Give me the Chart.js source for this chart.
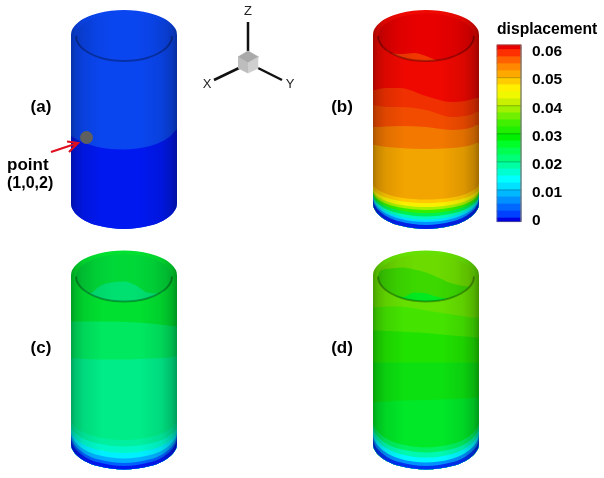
<!DOCTYPE html>
<html>
<head>
<meta charset="utf-8">
<script src="https://cdn.jsdelivr.net/npm/chart.js@4"></script>
<style>
  html, body { margin: 0; padding: 0; background: #fff; }
  canvas { display: block; }
</style>
</head>
<body>
<canvas id="myChart" width="604" height="478"></canvas>
<script>
// sample positions across the cylinder (picture units from its left edge)
const wallX = [0, 0.5, 2, 6, 14, 27, 53, 79, 92, 100, 104, 105.5, 106];
const innerX = [5, 5.5, 7, 10.5, 18, 30, 41, 53, 65, 76, 88, 95.5, 99, 100.5, 101];

// silhouette of the cylinder
const outerTop = [35, 31.6, 28.2, 23.5, 18, 13.2, 10, 13.2, 18, 23.5, 28.2, 31.6, 35];
const outerBottom = [203, 206.6, 210, 215, 220.7, 225.6, 229, 225.6, 220.7, 215, 210, 206.6, 203];
const innerTop = [36, 33, 29.6, 25.5, 20.7, 16.3, 14.2, 13.5, 14.2, 16.3, 20.7, 25.5, 29.6, 33, 36];
const innerBottom = [36, 39.5, 43, 47.6, 53, 58, 60.2, 61, 60.2, 58, 53, 47.6, 43, 39.5, 36];

// panel (a)
const aEdges = [
  [135, 136, 137, 139.5, 143, 147, 149.5, 146, 141, 135.5, 131, 130, 129]
];
const aColors = ['#0a46f0', '#0018f0'];

// panel (b)
const bEdges = [
  [90, 90, 90, 89, 88, 88, 96, 102, 101, 99, 98, 98, 98],
  [105, 105, 105.5, 106, 107, 107, 110, 117, 116, 114, 112, 112, 112],
  [127, 127, 127, 127, 126.5, 126, 127, 130, 129, 127, 125, 125, 125],
  [145, 145, 145, 146, 147, 148, 149, 148, 146.5, 144.5, 143, 143, 143],
  [183, 185.3, 187.5, 190.6, 194.2, 197.4, 199.5, 197.4, 194.2, 190.6, 187.5, 185.3, 183],
  [187, 189.2, 191.3, 194.4, 197.9, 200.9, 203, 200.9, 197.9, 194.4, 191.3, 189.2, 187],
  [189.5, 192, 194.2, 197.6, 201.4, 204.7, 207, 204.7, 201.4, 197.6, 194.2, 192, 189.5],
  [191.5, 194.1, 196.5, 200, 204.1, 207.6, 210, 207.6, 204.1, 200, 196.5, 194.1, 191.5],
  [193, 195.8, 198.4, 202.2, 206.6, 210.4, 213, 210.4, 206.6, 202.2, 198.4, 195.8, 193],
  [194.5, 197.6, 200.4, 204.6, 209.5, 213.6, 216.5, 213.6, 209.5, 204.6, 200.4, 197.6, 194.5],
  [195.5, 198.9, 202, 206.5, 211.8, 216.4, 219.5, 216.4, 211.8, 206.5, 202, 198.9, 195.5],
  [197, 200.5, 203.8, 208.5, 214, 218.8, 222, 218.8, 214, 208.5, 203.8, 200.5, 197],
  [198.5, 202.2, 205.7, 210.7, 216.5, 221.6, 225, 221.6, 216.5, 210.7, 205.7, 202.2, 198.5]
];
const bColors = ['#ee0800', '#f03000', '#f24c00', '#f27800', '#f2a400', '#ffc800', '#f8f000',
  '#a8f000', '#30f000', '#00f050', '#00f8c0', '#00e0ff', '#0090ff', '#0020e8'];
const bHollow = [
  [36, 33, 29.6, 25.5, 20.7, 16.3, 14.2, 13.5, 14.2, 16.3, 20.7, 25.5, 29.6, 33, 36],
  [36, 39.5, 43, 47.6, 53, 54, 53, 56, 60.2, 58, 53, 47.6, 43, 39.5, 36]
];
const bHollowColors = ['#e80000', '#f03800'];

// panel (c)
const cEdges = [
  [81, 81, 81, 81, 81, 81, 81.5, 83, 84.5, 85.5, 86, 86, 86],
  [118, 118, 118, 118, 118.5, 119, 119, 118, 117.5, 117, 116, 116, 116],
  [178, 181, 183.8, 187.9, 192.6, 196.7, 199.5, 196.7, 192.6, 187.9, 183.8, 181, 178],
  [184, 187, 189.9, 194.1, 199, 203.1, 206, 203.1, 199, 194.1, 189.9, 187, 184],
  [188, 191.4, 194.6, 199.3, 204.7, 209.3, 212.5, 209.3, 204.7, 199.3, 194.6, 191.4, 188],
  [191, 194.8, 198.3, 203.4, 209.4, 214.5, 218, 214.5, 209.4, 203.4, 198.3, 194.8, 191],
  [194, 198, 201.7, 207.1, 213.4, 218.8, 222.5, 218.8, 213.4, 207.1, 201.7, 198, 194],
  [197, 201, 204.7, 210.1, 216.4, 221.8, 225.5, 221.8, 216.4, 210.1, 204.7, 201, 197]
];
const cColors = ['#00e030', '#00e860', '#00ec88', '#00f0a0', '#00f8c8', '#00f0ff', '#00b0ff', '#0060ff', '#0018f0'];
const cHollow = [
  [36, 33, 29.6, 25.5, 20.7, 16.3, 14.2, 13.5, 14.2, 16.3, 20.7, 25.5, 29.6, 33, 36],
  [36, 39.5, 43, 47.6, 53, 45, 42, 41, 45, 52, 53, 47.6, 43, 39.5, 36]
];
const cHollowColors = ['#00d838', '#00e070'];

// panel (d)
const dEdges = [
  [67, 67, 67, 66.5, 66, 66, 70, 74, 76, 77, 77, 77, 77],
  [90, 90, 90, 90, 90.5, 91, 92.5, 95, 96, 96.5, 97, 97, 97],
  [122, 122, 122, 122, 122, 122, 122, 122, 122, 122, 122, 122, 122],
  [162, 162, 162, 161.5, 161, 160, 159.5, 158.5, 158, 157.5, 157, 157, 157],
  [180, 183.8, 187.3, 192.4, 198.4, 203.5, 207, 203.5, 198.4, 192.4, 187.3, 183.8, 180],
  [185, 188.8, 192.3, 197.4, 203.4, 208.5, 212, 208.5, 203.4, 197.4, 192.3, 188.8, 185],
  [189, 192.9, 196.6, 201.9, 208, 213.4, 217, 213.4, 208, 201.9, 196.6, 192.9, 189],
  [193, 197, 200.8, 206.3, 212.7, 218.2, 222, 218.2, 212.7, 206.3, 200.8, 197, 193],
  [197, 201, 204.7, 210.1, 216.4, 221.8, 225.5, 221.8, 216.4, 210.1, 204.7, 201, 197]
];
const dColors = ['#66e000', '#44e400', '#20e200', '#0ce010', '#00e828', '#00f060', '#00f8b0', '#00f8ff', '#0090ff', '#0030f0'];
const dHollow = [
  [36, 33, 29.6, 25.5, 20.7, 16.3, 14.2, 13.5, 14.2, 16.3, 20.7, 25.5, 29.6, 33, 36],
  [33, 33, 31, 29, 28, 27, 29, 32, 37, 42, 45, 46, 43, 39.5, 36],
  [36, 39.5, 43, 47.6, 53, 56.5, 52, 53, 56.5, 58, 53, 47.6, 43, 39.5, 36]
];
const dHollowColors = ['#6cdc00', '#3cd800', '#00e820'];

// colour bar
const barEdges = [0.0617, 0.06, 0.0575, 0.055, 0.0525, 0.05, 0.0475, 0.045, 0.0425, 0.04, 0.0375, 0.035, 0.0325,
  0.03, 0.0275, 0.025, 0.0225, 0.02, 0.0175, 0.015, 0.0125, 0.01, 0.0075, 0.005, 0.0025, 0, -0.0013];
const barColors = ['#e80000', '#ff3000', '#ff6000', '#ff8800', '#ffa800', '#ffcc00', '#fff000', '#f0f800',
  '#c8f000', '#a0f000', '#70f000', '#40f000', '#20f000', '#00f000', '#00ff28', '#00ff50', '#00ff78', '#00ffa0',
  '#00ffd0', '#00ffff', '#00e0ff', '#00b8ff', '#0090ff', '#0068ff', '#0040ff', '#0000e0'];
const barTicks = [0.06, 0.05, 0.04, 0.03, 0.02, 0.01, 0];
const barTickLabels = ['0.06', '0.05', '0.04', '0.03', '0.02', '0.01', '0'];

// axis triad
const triadZ = [[248, 22], [248, 51]];
const triadX = [[214, 80], [239, 68]];
const triadY = [[258, 68], [282, 80]];
const cubeX = [238, 248, 258.5];
const cubeTopUpper = [57, 51, 57];
const cubeTopLower = [57, 63, 57];
const cubeFrontX = [238, 248];
const cubeLeftUpper = [57, 63];
const cubeLeftLower = [68, 73];
const cubeRightX = [248, 258.5];
const cubeRightUpper = [63, 57];
const cubeRightLower = [73, 68];

// marker for the point (1,0,2) and its arrow
const pointMark = [[86.5, 137.5]];
const arrowLine = [[51, 152], [78, 143]];
const arrowHead = [[67, 141.5], [78, 143], [69, 152]];

const texts = [
  { t: '(a)', x: 41, y: 107, font: 'bold 17px "Liberation Sans"' },
  { t: '(b)', x: 342, y: 107, font: 'bold 17px "Liberation Sans"' },
  { t: '(c)', x: 41, y: 348, font: 'bold 17px "Liberation Sans"' },
  { t: '(d)', x: 342, y: 348, font: 'bold 17px "Liberation Sans"' },
  { t: 'point', x: 7, y: 165, align: 'left', font: 'bold 17px "Liberation Sans"' },
  { t: '(1,0,2)', x: 7, y: 184, align: 'left', font: 'bold 16px "Liberation Sans"' },
  { t: 'displacement', x: 497, y: 30, align: 'left', font: 'bold 15.7px "Liberation Sans"' },
  { t: 'Z', x: 248, y: 11, font: '13px "Liberation Sans"', color: '#222' },
  { t: 'X', x: 207, y: 84, font: '13px "Liberation Sans"', color: '#222' },
  { t: 'Y', x: 290, y: 84, font: '13px "Liberation Sans"', color: '#222' }
];

const edgeShade = [[0, 0.3], [0.04, 0.18], [0.12, 0.08], [0.3, 0], [0.65, 0], [0.85, 0.08], [0.95, 0.2], [1, 0.34]];
const hollowShade = [[0, 0.22], [0.06, 0.14], [0.2, 0.05], [0.4, 0], [0.6, 0], [0.8, 0.05], [0.94, 0.14], [1, 0.22]];

const datasets = [];

function toPoints(xs, ys, dx, dy) {
    return xs.map((x, i) => ({ x: x + dx, y: ys[i] + dy }));
}

function addLine(points, extra) {
    datasets.push(Object.assign({
        data: points,
        pointRadius: 0,
        borderWidth: 0,
        fill: false,
        tension: 0
    }, extra));
    return datasets.length - 1;
}

function shadeFill(x0, width, stops) {
    return (ctx) => {
        const xScale = ctx.chart.scales.x;
        const left = xScale ? xScale.getPixelForValue(x0) : NaN;
        const right = xScale ? xScale.getPixelForValue(x0 + width) : NaN;
        // the scale has no size yet on the very first resolve
        if (!isFinite(left) || !isFinite(right)) {
            return 'rgba(0,0,0,0)';
        }
        const g = ctx.chart.ctx.createLinearGradient(left, 0, right, 0);
        stops.forEach(s => g.addColorStop(s[0], `rgba(0,0,0,${s[1]})`));
        return g;
    };
}

const smooth = { cubicInterpolationMode: 'monotone' };

function addCylinder(dx, dy, edges, colors, hollow, hollowColors) {
    const base = addLine(toPoints(wallX, outerBottom, dx, dy), smooth);
    const curves = [outerTop].concat(edges);
    curves.forEach((c, i) => {
        addLine(toPoints(wallX, c, dx, dy), Object.assign({ fill: base, backgroundColor: colors[i] }, smooth));
    });
    addLine(toPoints(wallX, outerTop, dx, dy), Object.assign({ fill: base, backgroundColor: shadeFill(dx, 106, edgeShade) }, smooth));

    const innerBase = addLine(toPoints(innerX, innerBottom, dx, dy), smooth);
    hollow.forEach((c, i) => {
        addLine(toPoints(innerX, c, dx, dy), Object.assign({ fill: innerBase, backgroundColor: hollowColors[i] }, smooth));
    });
    addLine(toPoints(innerX, innerTop, dx, dy), Object.assign({ fill: innerBase, backgroundColor: shadeFill(dx + 5, 96, hollowShade) }, smooth));
    addLine(toPoints(innerX, innerBottom, dx, dy), Object.assign({ borderColor: 'rgba(0,0,0,0.3)', borderWidth: 2 }, smooth));
}

addCylinder(71, 0, aEdges, aColors, [innerTop], ['#0a46f0']);
addCylinder(373, 0, bEdges, bColors, bHollow, bHollowColors);
addCylinder(71, 240.5, cEdges, cColors, cHollow, cHollowColors);
addCylinder(373, 240.5, dEdges, dColors, dHollow, dHollowColors);

// triad
function addFace(xs, upper, lower, color) {
    const low = addLine(toPoints(xs, lower, 0, 0), { borderColor: color, borderWidth: 0.8 });
    addLine(toPoints(xs, upper, 0, 0), { fill: low, backgroundColor: color, borderColor: color, borderWidth: 0.8 });
}
[triadZ, triadX, triadY].forEach(seg => {
    addLine(seg.map(p => ({ x: p[0], y: p[1] })), { borderColor: '#111', borderWidth: 2.5 });
});
addFace(cubeX, cubeTopUpper, cubeTopLower, '#a9a9a9');
addFace(cubeFrontX, cubeLeftUpper, cubeLeftLower, '#bdbdbd');
addFace(cubeRightX, cubeRightUpper, cubeRightLower, '#cfcfcf');

// marker and arrow
addLine(pointMark.map(p => ({ x: p[0], y: p[1] })), { pointRadius: 6.5, pointBackgroundColor: '#5f5f5f', pointBorderWidth: 0, showLine: false });
addLine(arrowLine.map(p => ({ x: p[0], y: p[1] })), { borderColor: '#e01020', borderWidth: 2.2 });
addLine(arrowHead.map(p => ({ x: p[0], y: p[1] })), { borderColor: '#e01020', borderWidth: 2.2 });

// colour bar bars and its major lines
datasets.push({
    type: 'bar',
    xAxisID: 'x',
    yAxisID: 'yBar',
    data: barColors.map((c, i) => ({ x: 509, y: [barEdges[i + 1], barEdges[i]] })),
    backgroundColor: barColors,
    borderWidth: 0,
    barThickness: 24,
    grouped: false
});
barTicks.slice(1, 6).forEach(v => {
    addLine([{ x: 497, y: v }, { x: 521, y: v }], { yAxisID: 'yBar', borderColor: 'rgba(0,0,0,0.25)', borderWidth: 1 });
});
addLine([
    { x: 497, y: barEdges[0] }, { x: 521, y: barEdges[0] },
    { x: 521, y: barEdges[barEdges.length - 1] }, { x: 497, y: barEdges[barEdges.length - 1] },
    { x: 497, y: barEdges[0] }
], { yAxisID: 'yBar', borderColor: 'rgba(120,120,120,0.6)', borderWidth: 1 });

// later datasets go on top
datasets.forEach((d, i) => { d.order = -i; });

const textPlugin = {
    id: 'textPlugin',
    afterDraw(chart) {
        const c = chart.ctx;
        const xs = chart.scales.x, ys = chart.scales.y, bar = chart.scales.yBar;
        c.save();
        c.textBaseline = 'middle';
        texts.forEach(it => {
            c.font = it.font;
            c.fillStyle = it.color || '#000';
            c.textAlign = it.align || 'center';
            c.fillText(it.t, xs.getPixelForValue(it.x), ys.getPixelForValue(it.y));
        });
        c.font = 'bold 15.5px "Liberation Sans"';
        c.fillStyle = '#000';
        c.textAlign = 'left';
        barTicks.forEach((v, i) => {
            c.fillText(barTickLabels[i], xs.getPixelForValue(532), bar.getPixelForValue(v) + 2.5);
        });
        c.restore();
    }
};

new Chart(document.getElementById('myChart').getContext('2d'), {
    type: 'line',
    data: { datasets: datasets },
    plugins: [textPlugin],
    options: {
        responsive: false,
        animation: false,
        events: [],
        layout: { padding: 0, autoPadding: false },
        plugins: { legend: { display: false }, tooltip: { enabled: false } },
        scales: {
            x: { type: 'linear', min: 0, max: 604, display: false, offset: false },
            y: { type: 'linear', min: 0, max: 478, reverse: true, display: false, offset: false },
            yBar: { type: 'linear', min: -0.09266, max: 0.07769, display: false, offset: false }
        }
    }
});
</script>
</body>
</html>
